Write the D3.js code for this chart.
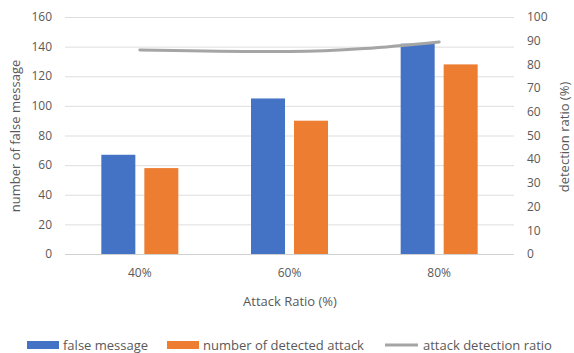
<!DOCTYPE html>
<html>
<head>
<meta charset="utf-8">
<script src="https://cdn.jsdelivr.net/npm/d3@7"></script>
<style>
  html, body { margin: 0; padding: 0; background: #fff; }
  svg { display: block; font-family: "Open Sans", "DejaVu Sans", sans-serif; }
</style>
</head>
<body>
<svg id="chart" width="574" height="353"></svg>
<script>
// Attack ratios along the x axis
const categories = ["40%", "60%", "80%"];
// Bar series (left axis)
const falseMessage = [67, 105, 142];
const detectedAttack = [58, 90, 128];
// Line series (right axis, %)
const detectionRatio = [86.1, 85.4, 89.5];
// Tick values
const leftTicks = [0, 20, 40, 60, 80, 100, 120, 140, 160];
const rightTicks = [0, 10, 20, 30, 40, 50, 60, 70, 80, 90, 100];

const seriesNames = ["false message", "number of detected attack", "attack detection ratio"];
const colors = ["#4472c4", "#ed7d31", "#a5a5a5"];
const textColor = "#595959";

const svg = d3.select("#chart");
const plot = { left: 65, right: 514, top: 17, bottom: 254 };

const x = d3.scaleBand().domain(categories).range([plot.left, plot.right]);
const yLeft = d3.scaleLinear().domain([0, 160]).range([plot.bottom, plot.top]);
const yRight = d3.scaleLinear().domain([0, 100]).range([plot.bottom, plot.top]);

// Horizontal gridlines
svg.append("g").selectAll("line").data(leftTicks).join("line")
  .attr("x1", plot.left).attr("x2", plot.right)
  .attr("y1", d => yLeft(d) + 0.5).attr("y2", d => yLeft(d) + 0.5)
  .attr("stroke", d => d === 0 ? "#d0d0d0" : "#dedede").attr("stroke-width", 1);

// Left axis labels
svg.append("g").selectAll("text").data(leftTicks).join("text")
  .attr("x", 52).attr("y", d => yLeft(d)).attr("dy", "0.35em")
  .attr("text-anchor", "end").attr("font-size", 12).attr("fill", textColor)
  .text(d => d);

// Right axis labels
svg.append("g").selectAll("text").data(rightTicks).join("text")
  .attr("x", 527).attr("y", d => yRight(d)).attr("dy", "0.35em")
  .attr("text-anchor", "start").attr("font-size", 12).attr("fill", textColor)
  .text(d => d);

// Bars
const barW = 34, gap = 9;
const groups = [falseMessage, detectedAttack];
groups.forEach((vals, i) => {
  svg.append("g").selectAll("rect").data(vals).join("rect")
    .attr("x", (d, j) => x(categories[j]) + x.bandwidth() / 2 - barW - gap / 2 + i * (barW + gap))
    .attr("y", d => yLeft(d))
    .attr("width", barW)
    .attr("height", d => yLeft(0) - yLeft(d))
    .attr("fill", colors[i]);
});

// Detection ratio line
const line = d3.line()
  .x((d, j) => x(categories[j]) + x.bandwidth() / 2)
  .y(d => yRight(d))
  .curve(d3.curveMonotoneX);
svg.append("path").datum(detectionRatio)
  .attr("d", line).attr("fill", "none")
  .attr("stroke", colors[2]).attr("stroke-width", 3).attr("stroke-linecap", "round");

// Category labels
svg.append("g").selectAll("text").data(categories).join("text")
  .attr("x", d => x(d) + x.bandwidth() / 2).attr("y", 273).attr("dy", "0.35em")
  .attr("text-anchor", "middle").attr("font-size", 12).attr("fill", textColor)
  .text(d => d);

// Axis titles
svg.append("text").attr("x", 290).attr("y", 301).attr("dy", "0.35em")
  .attr("text-anchor", "middle").attr("font-size", 13).attr("fill", textColor)
  .text("Attack Ratio (%)");
svg.append("text")
  .attr("transform", "translate(15,136) rotate(-90)").attr("dy", "0.35em")
  .attr("text-anchor", "middle").attr("font-size", 13).attr("fill", textColor)
  .text("number of false message");
svg.append("text")
  .attr("transform", "translate(564,137) rotate(-90)").attr("dy", "0.35em")
  .attr("text-anchor", "middle").attr("font-size", 13).attr("fill", textColor)
  .text("detection ratio (%)");

// Legend
const legend = [
  { name: seriesNames[0], color: colors[0], sx: 27, tx: 63, type: "rect" },
  { name: seriesNames[1], color: colors[1], sx: 167, tx: 203, type: "rect" },
  { name: seriesNames[2], color: colors[2], sx: 385, tx: 423, type: "line" }
];
const ly = 345;
legend.forEach(l => {
  if (l.type === "rect") {
    svg.append("rect").attr("x", l.sx).attr("y", ly - 4).attr("width", 32).attr("height", 8).attr("fill", l.color);
  } else {
    svg.append("line").attr("x1", l.sx).attr("x2", l.sx + 33).attr("y1", ly).attr("y2", ly)
      .attr("stroke", l.color).attr("stroke-width", 3);
  }
  svg.append("text").attr("x", l.tx).attr("y", ly).attr("dy", "0.35em")
    .attr("font-size", 13).attr("fill", textColor).text(l.name);
});
</script>
</body>
</html>
